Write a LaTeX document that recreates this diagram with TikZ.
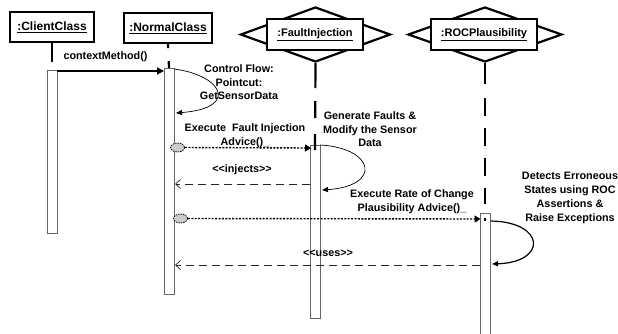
\documentclass[tikz,border=0pt]{standalone}
\usepackage{fontspec}
\setmainfont{Liberation Sans}
\usetikzlibrary{arrows.meta,shapes.geometric}

\tikzset{
  objbox/.style={draw, line width=2.2pt, fill=white, inner sep=0pt, font=\bfseries\fontsize{12}{14}\selectfont},
  objboxsm/.style={objbox, font=\bfseries\fontsize{11}{13}\selectfont},
  deco/.style={diamond, draw, line width=2.2pt, inner sep=0pt, minimum width=150pt, minimum height=55pt, miter limit=20},
  actbar/.style={draw=black!60, line width=0.8pt, fill=white, minimum width=10pt, inner sep=0pt, anchor=north},
  lifeline/.style={line width=2.2pt},
  lbl/.style={font=\bfseries\fontsize{10.8}{13.6}\selectfont, align=center, inner sep=0pt},
  callmsg/.style={line width=1.2pt, -{Triangle[length=7pt,width=7pt]}},
  selfcall/.style={line width=0.7pt, -{Triangle[length=6pt,width=5pt]}},
  advice/.style={line width=1.4pt, dash pattern=on 2pt off 1.4pt, -{Triangle[length=6pt,width=7pt]}},
  reply/.style={line width=0.8pt, black!85, dash pattern=on 8pt off 5pt, -{Straight Barb[length=5pt,width=9pt,line width=0.7pt]}},
  joinpt/.style={ellipse, draw, dashed, line width=0.8pt, dash pattern=on 1.5pt off 1pt, fill=black!20, minimum width=14pt, minimum height=9pt, inner sep=0pt}
}

\begin{document}
\begin{tikzpicture}[x=1pt,y=-1pt]
\useasboundingbox (0,0) rectangle (618,333);

% object heads
\node[deco] (fidia) at (315.5,34.5) {};
\node[deco, minimum width=154pt] (rocdia) at (485,34.5) {};
\node[objbox, minimum width=84pt, minimum height=30pt] (client) at (52,27) {\underline{:ClientClass}};
\node[objbox, minimum width=88pt, minimum height=30pt] (normal) at (168,28) {\underline{:NormalClass}};
\node[objboxsm, minimum width=96pt, minimum height=31pt] (fault) at (315,34.5) {\underline{:FaultInjection}};
\node[objboxsm, minimum width=106pt, minimum height=31pt] (roc) at (484,34.5) {\underline{:ROCPlausibility}};

% activation bars
\node[actbar, minimum height=163pt] (cbar) at (52,70) {};
\node[actbar, minimum height=226pt] (nbar) at (169,68) {};
\node[actbar, minimum height=173pt] (fbar) at (315,145) {};
\node[actbar, minimum height=125pt] (rbar) at (485.5,213) {};

% lifelines
\draw[lifeline] (client.south) -- (52,62);
\draw[lifeline, dash pattern=on 4pt off 13pt on 10pt off 50pt] (normal.south) -- (nbar.north);
\draw[lifeline, dash pattern=on 25pt off 13pt on 17pt off 16pt on 17pt off 100pt] (fidia.south) -- (315,150);
\draw[lifeline, dash pattern=on 21pt off 14pt on 18pt off 12pt on 18pt off 12pt on 18pt off 12pt on 16pt off 14pt on 20pt off 100pt]
  (rocdia.south) -- (485,221);

% message end points
\coordinate (c1) at (57,71);
\coordinate (n1) at (164,71);
\coordinate (n2) at (174,69);
\coordinate (n3) at (176,113);
\coordinate (f1) at (311,148);
\coordinate (f2) at (310,184);
\coordinate (n4) at (175,184);
\coordinate (f3) at (320,145);
\coordinate (f4) at (322,190);
\coordinate (r1) at (480.5,219);
\coordinate (r2) at (491,221);
\coordinate (r3) at (492,264);
\coordinate (r4) at (480,265);
\coordinate (n5) at (175,265);

% aspect join points
\node[joinpt] (jp1) at (177.5,147.5) {};
\node[joinpt] (jp2) at (180.5,218.5) {};

% messages
\draw[callmsg] (c1) -- (n1);
\node[lbl] (lctx) at (105.5,56.5) {contextMethod()};

\draw[selfcall] (n2) .. controls (222,75) and (240,108) .. (n3);
\node[lbl] (lcf) at (239,82.5) {Control Flow:\\Pointcut:\\GetSensorData};

\draw[advice] (jp1.east) -- (f1);
\node[lbl] (lexec) at (245,135.5) {Execute\ \ Fault Injection\\Advice()\_};

\draw[reply] (f2) -- (n4);
\node[lbl] (linj) at (242,170) {<{}<injects>{}>};

\draw[selfcall] (f3) .. controls (375,148) and (382,186) .. (f4);
\node[lbl] (lgen) at (370,129.5) {Generate Faults \&\\Modify the Sensor\\Data};

\draw[advice] (jp2.east) -- (r1);
\node[lbl] (lroc) at (412,202) {Execute Rate of Change\\Plausibility Advice()\_};

\draw[selfcall, line width=1.2pt] (r2) .. controls (545,222) and (548,262) .. (r3);
\node[lbl, font=\bfseries\fontsize{10.8}{14.2}\selectfont] (ldet) at (570,198) {Detects Erroneous\\States using ROC\\Assertions \&\\Raise Exceptions};

\draw[reply] (r4) -- (n5);
\node[lbl] (luse) at (328,253) {<{}<uses>{}>};
\end{tikzpicture}
\end{document}
